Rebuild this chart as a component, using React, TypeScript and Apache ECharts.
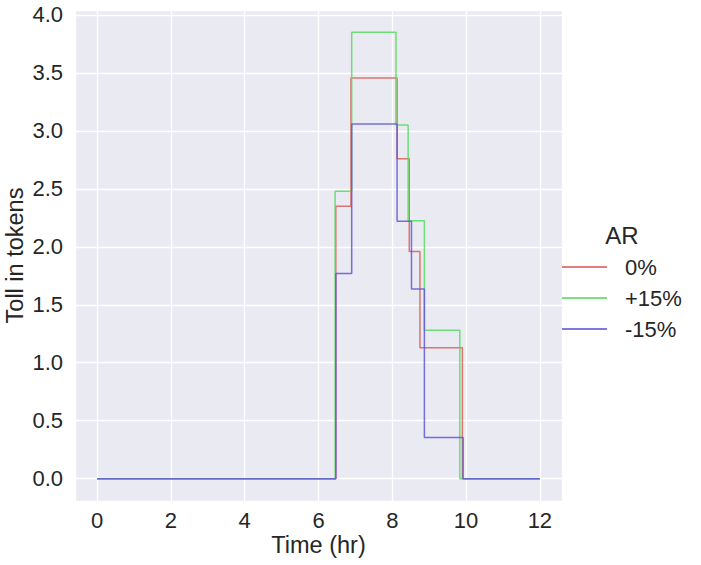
import React, { useEffect, useRef } from "react";
import * as echarts from "echarts";

const SERIES_NAMES = ["0%", "+15%", "-15%"];
const COLORS = ["#db5f57", "#57db5f", "#5f57db"];

const redTimes = [0, 6.47, 6.88, 8.13, 8.46, 8.75, 9.9, 12];
const redValues = [0, 2.35, 3.455, 2.76, 1.96, 1.13, 0, 0];

const greenTimes = [0, 6.45, 6.9, 8.1, 8.43, 8.87, 9.83, 12];
const greenValues = [0, 2.48, 3.85, 3.05, 2.225, 1.28, 0, 0];

const blueTimes = [0, 6.47, 6.9, 8.13, 8.52, 8.87, 9.92, 12];
const blueValues = [0, 1.77, 3.06, 2.22, 1.635, 0.355, 0, 0];

const LEGEND_TITLE = "AR";
const X_NAME = "Time (hr)";
const Y_NAME = "Toll in tokens";

const FONT = "'Liberation Sans', Arial, sans-serif";
const TEXT = "#262626";

function pairs(t: number[], v: number[]) {
  return t.map((x, i) => [x, v[i]]);
}

export default function App() {
  const ref = useRef<HTMLDivElement>(null);
  useEffect(() => {
    if (!ref.current) return;
    const chart = echarts.init(ref.current, null, { renderer: "svg" });
    const all = [
      pairs(redTimes, redValues),
      pairs(greenTimes, greenValues),
      pairs(blueTimes, blueValues),
    ];
    chart.setOption({
      animation: false,
      backgroundColor: "#ffffff",
      textStyle: { fontFamily: FONT },
      grid: {
        left: 75,
        right: 139,
        top: 10,
        bottom: 64,
        show: true,
        backgroundColor: "#eaeaf2",
        borderWidth: 0,
        containLabel: false,
        outerBoundsMode: "none",
      },
      xAxis: {
        type: "value",
        min: -0.6,
        max: 12.6,
        splitNumber: 6,
        minInterval: 2,
        maxInterval: 2,
        name: X_NAME,
        nameLocation: "middle",
        nameGap: 32,
        nameMoveOverlap: false,
        nameTextStyle: { color: TEXT, fontSize: 23.5, fontFamily: FONT },
        axisLine: { show: false },
        axisTick: { show: false },
        axisLabel: {
          color: TEXT,
          fontSize: 22,
          fontFamily: FONT,
          margin: 8,
          showMinLabel: false,
          showMaxLabel: false,
        },
        splitLine: { show: true, lineStyle: { color: "#ffffff", width: 1.3 } },
      },
      yAxis: {
        type: "value",
        min: -0.1925,
        max: 4.0425,
        splitNumber: 8,
        minInterval: 0.5,
        maxInterval: 0.5,
        name: Y_NAME,
        nameLocation: "middle",
        nameGap: 48,
        nameMoveOverlap: false,
        nameTextStyle: { color: TEXT, fontSize: 23.5, fontFamily: FONT },
        axisLine: { show: false },
        axisTick: { show: false },
        axisLabel: {
          color: TEXT,
          fontSize: 22,
          fontFamily: FONT,
          margin: 12,
          showMinLabel: false,
          showMaxLabel: false,
          formatter: (v: number) => v.toFixed(1),
        },
        splitLine: { show: true, lineStyle: { color: "#ffffff", width: 1.3 } },
      },
      legend: {
        orient: "vertical",
        left: 562,
        top: 256,
        padding: 0,
        itemWidth: 45,
        itemHeight: 2,
        itemGap: 9,
        icon: "rect",
        data: SERIES_NAMES,
        textStyle: {
          color: TEXT,
          fontSize: 22,
          fontFamily: FONT,
          lineHeight: 22,
          padding: [0, 0, 0, 13],
        },
      },
      graphic: [
        {
          type: "text",
          x: 622,
          y: 235,
          style: {
            text: LEGEND_TITLE,
            fill: TEXT,
            font: `24px ${FONT}`,
            textAlign: "center",
            textVerticalAlign: "middle",
          },
        },
      ],
      series: SERIES_NAMES.map((name, i) => ({
        name,
        type: "line",
        step: "end",
        data: all[i],
        showSymbol: false,
        symbol: "none",
        color: COLORS[i],
        lineStyle: { color: COLORS[i], width: 1.5, opacity: 0.85 },
        itemStyle: { color: COLORS[i], opacity: 0.8 },
      })),
    });
    return () => chart.dispose();
  }, []);
  return (
    <div
      ref={ref}
      style={{ position: "absolute", left: 0, top: 0, width: 701, height: 565 }}
    />
  );
}
